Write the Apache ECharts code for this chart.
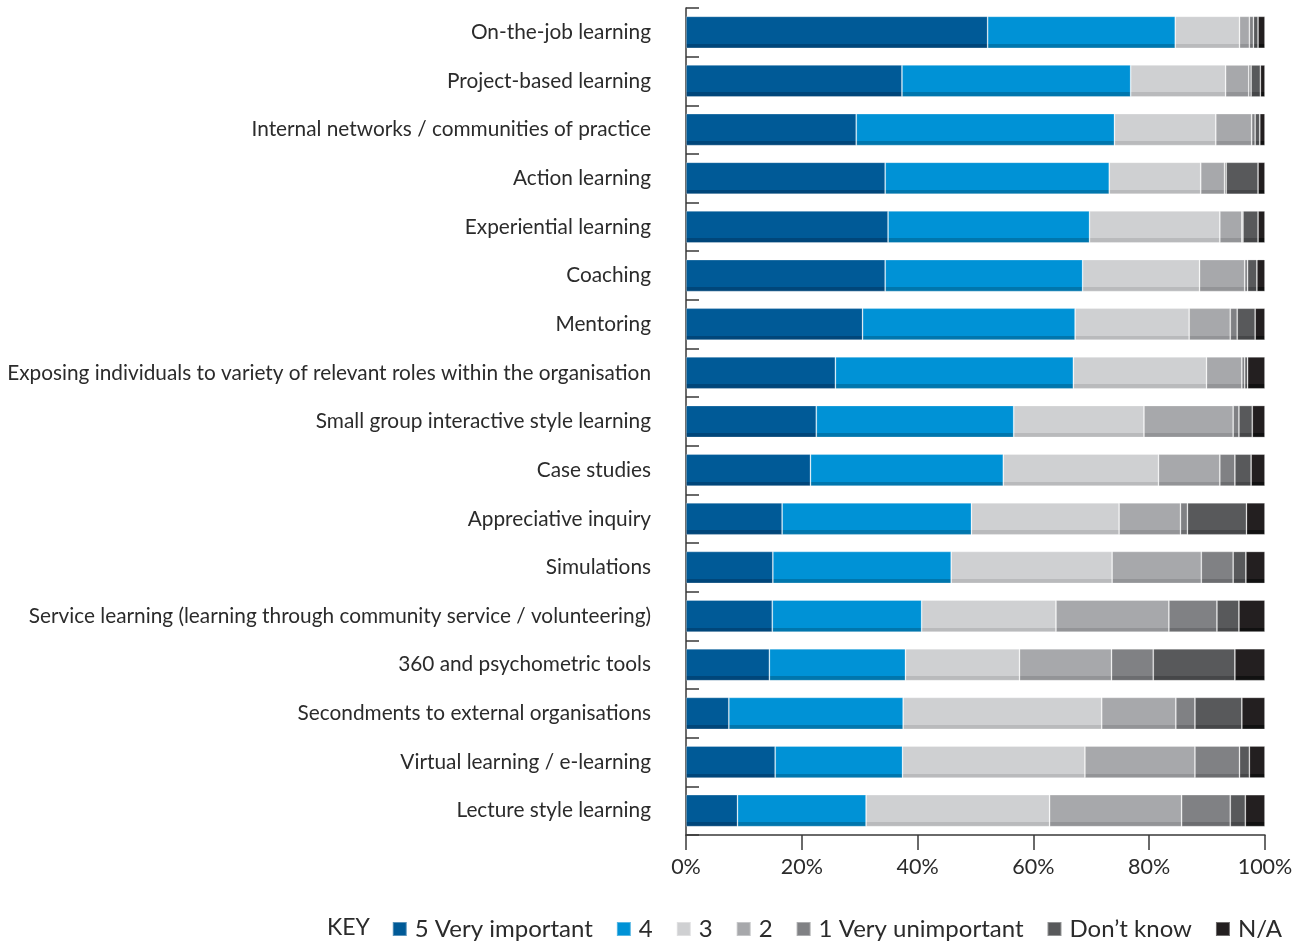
<!DOCTYPE html>
<html>
<head>
<meta charset="utf-8">
<script src="https://cdn.jsdelivr.net/npm/echarts@6/dist/echarts.min.js"></script>
<style>
html,body{margin:0;padding:0;background:#fff;}
#chart{width:1307px;height:941px;}
</style>
</head>
<body>
<div id="chart"></div>
<script>
const categories = [
  "On-the-job learning",
  "Project-based learning",
  "Internal networks / communities of practice",
  "Action learning",
  "Experiential learning",
  "Coaching",
  "Mentoring",
  "Exposing individuals to variety of relevant roles within the organisation",
  "Small group interactive style learning",
  "Case studies",
  "Appreciative inquiry",
  "Simulations",
  "Service learning (learning through community service / volunteering)",
  "360 and psychometric tools",
  "Secondments to external organisations",
  "Virtual learning / e-learning",
  "Lecture style learning"
];
const seriesNames = ["5 Very important", "4", "3", "2", "1 Very unimportant", "Don\u2019t know", "N/A"];
const veryImportant   = [52.1, 37.3, 29.4, 34.4, 34.9, 34.4, 30.5, 25.8, 22.5, 21.5, 16.6, 15.0, 14.9, 14.4, 7.4, 15.4, 8.9];
const important4      = [32.4, 39.5, 44.6, 38.7, 34.8, 34.1, 36.7, 41.1, 34.1, 33.3, 32.7, 30.8, 25.8, 23.5, 30.1, 22.0, 22.2];
const neutral3        = [11.1, 16.4, 17.5, 15.8, 22.5, 20.2, 19.7, 23.0, 22.5, 26.8, 25.5, 27.8, 23.2, 19.7, 34.3, 31.5, 31.7];
const low2            = [1.7, 4.0, 6.2, 4.1, 3.8, 7.8, 7.1, 6.1, 15.4, 10.6, 10.6, 15.4, 19.5, 15.9, 12.8, 19.0, 22.8];
const veryUnimportant = [0.7, 0.4, 0.6, 0.3, 0.2, 0.5, 1.2, 0.5, 1.0, 2.6, 1.2, 5.5, 8.3, 7.2, 3.3, 7.7, 8.4];
const dontKnow        = [0.8, 1.6, 0.8, 5.5, 2.6, 1.6, 3.1, 0.5, 2.3, 2.8, 10.2, 2.2, 3.8, 14.1, 8.1, 1.7, 2.6];
const notApplicable   = [1.2, 0.8, 0.9, 1.2, 1.2, 1.4, 1.7, 3.0, 2.2, 2.4, 3.2, 3.3, 4.5, 5.2, 4.0, 2.7, 3.4];
const xTicks = [0, 20, 40, 60, 80, 100];

const colors = ["#005a97", "#0092d6", "#cfd0d2", "#a7a8ab", "#808184", "#58595b", "#231f20"];
const darkColors = ["#00467a", "#0076ad", "#b9babc", "#939497", "#6c6d70", "#464749", "#111"];
const dataSets = [veryImportant, important4, neutral3, low2, veryUnimportant, dontKnow, notApplicable];

const chart = echarts.init(document.getElementById('chart'), null, {renderer: 'canvas'});
const FONT = 'Lato';
const series = seriesNames.map((name, i) => ({
  name: name,
  type: 'bar',
  stack: 'total',
  barWidth: 32,
  data: dataSets[i],
  itemStyle: {
    color: {
      type: 'linear', x: 0, y: 0, x2: 0, y2: 1,
      colorStops: [
        {offset: 0, color: colors[i]},
        {offset: 0.86, color: colors[i]},
        {offset: 0.86, color: darkColors[i]},
        {offset: 1, color: darkColors[i]}
      ]
    },
    borderColor: 'rgba(255,255,255,0.35)',
    borderWidth: 0.8
  },
  emphasis: {disabled: true}
}));

chart.setOption({
  animation: false,
  textStyle: {fontFamily: FONT},
  grid: {left: 686, right: 42, top: 8, bottom: 106, containLabel: false},
  legend: {
    data: seriesNames.map((n, i) => ({name: n, itemStyle: {color: colors[i]}})),
    right: 20,
    top: 912,
    icon: 'rect',
    itemWidth: 14,
    itemHeight: 14,
    itemGap: 23,
    textStyle: {fontFamily: FONT, fontSize: 24, color: '#2b2b2b', padding: [0, 0, 0, 3]},
    selectedMode: false
  },
  graphic: [{
    type: 'text',
    left: 327,
    top: 916,
    style: {text: 'KEY', font: '23px ' + FONT, fill: '#2b2b2b'}
  }],
  xAxis: {
    type: 'value',
    min: 0,
    max: 100,
    interval: 20,
    axisLine: {show: true, lineStyle: {color: '#3a3a3a', width: 1.5}},
    axisTick: {show: true, length: 15, lineStyle: {color: '#3a3a3a', width: 1.5}},
    splitLine: {show: false},
    axisLabel: {
      fontFamily: FONT, fontSize: 21.5, color: '#2b2b2b', margin: 21,
      formatter: v => xTicks.includes(v) ? v + '%' : ''
    }
  },
  yAxis: {
    type: 'category',
    data: categories,
    inverse: true,
    axisLine: {show: true, lineStyle: {color: '#3a3a3a', width: 1.5}},
    axisTick: {show: true, inside: true, length: 13, lineStyle: {color: '#3a3a3a', width: 1.5}},
    axisLabel: {fontFamily: FONT, fontSize: 20.8, color: '#2b2b2b', margin: 35, padding: [4, 0, 0, 0]}
  },
  series: series
});
</script>
</body>
</html>
